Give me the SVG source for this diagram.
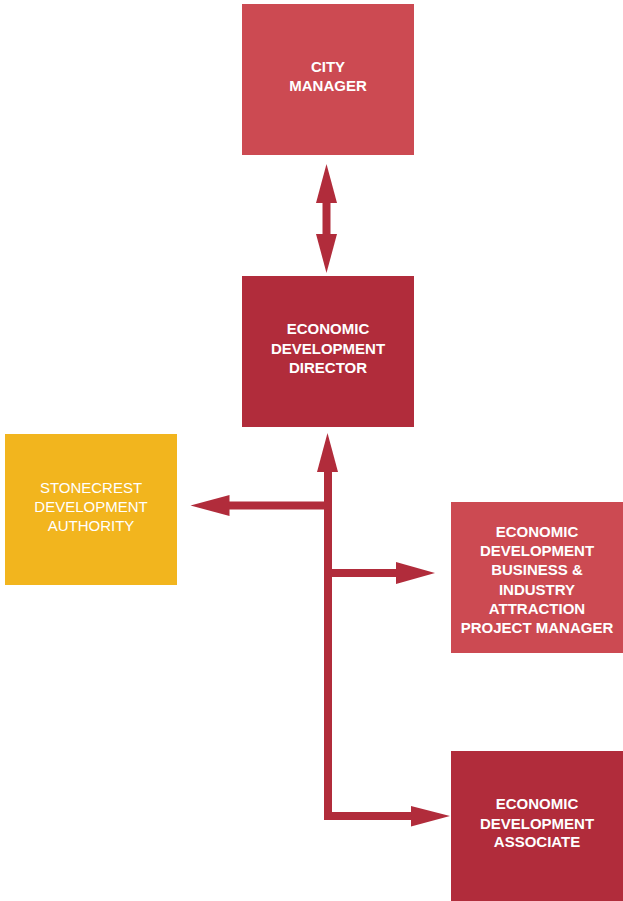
<svg xmlns="http://www.w3.org/2000/svg" width="623" height="901" viewBox="0 0 623 901">
<style>
.light{fill:#CC4A52}
.dark{fill:#B12C3B}
.yellow{fill:#F2B51E}
.t{font-family:"Liberation Sans",Arial,sans-serif;font-size:15px;font-weight:bold;fill:#ffffff;text-anchor:middle}
.tr{font-family:"Liberation Sans",Arial,sans-serif;font-size:15px;font-weight:normal;fill:#ffffff;text-anchor:middle}
.line{fill:none;stroke:#B12C3B;stroke-width:8;stroke-linejoin:miter;stroke-linecap:butt}
.head{fill:#B12C3B}
</style>
<rect width="623" height="901" fill="#ffffff"/>
<g id="connectors">
<path class="line" d="M326.5,202 V235"/>
<polygon class="head" points="326.5,164 316,203 337,203"/>
<polygon class="head" points="316,234 337,234 326.5,273"/>
<path class="line" d="M328,471 V816 H412"/>
<polygon class="head" points="327.5,433 317,472 338,472"/>
<path class="line" d="M328,505.5 H228"/>
<polygon class="head" points="190.5,505.5 229.5,495 229.5,516"/>
<path class="line" d="M328,573 H397"/>
<polygon class="head" points="396,562 396,584 435,573"/>
<polygon class="head" points="411,806 411,826.5 450,816"/>
</g>
<g id="city-manager">
<rect class="light" x="242" y="4" width="172" height="151"/>
<text class="t" x="328" y="72">CITY</text>
<text class="t" x="328" y="91">MANAGER</text>
</g>
<g id="director">
<rect class="dark" x="242" y="276" width="172" height="151"/>
<text class="t" x="328" y="334">ECONOMIC</text>
<text class="t" x="328" y="353.5">DEVELOPMENT</text>
<text class="t" x="328" y="373">DIRECTOR</text>
</g>
<g id="stonecrest">
<rect class="yellow" x="5" y="434" width="172" height="151"/>
<text class="tr" x="91" y="492.5">STONECREST</text>
<text class="tr" x="91" y="512">DEVELOPMENT</text>
<text class="tr" x="91" y="531">AUTHORITY</text>
</g>
<g id="project-manager">
<rect class="light" x="451" y="502" width="172" height="151"/>
<text class="t" x="537" y="536.5">ECONOMIC</text>
<text class="t" x="537" y="556">DEVELOPMENT</text>
<text class="t" x="537" y="575.3">BUSINESS &amp;</text>
<text class="t" x="537" y="594.5">INDUSTRY</text>
<text class="t" x="537" y="614">ATTRACTION</text>
<text class="t" x="537" y="633">PROJECT MANAGER</text>
</g>
<g id="associate">
<rect class="dark" x="451" y="751" width="172" height="150"/>
<text class="t" x="537" y="809">ECONOMIC</text>
<text class="t" x="537" y="828.5">DEVELOPMENT</text>
<text class="t" x="537" y="847">ASSOCIATE</text>
</g>
</svg>
